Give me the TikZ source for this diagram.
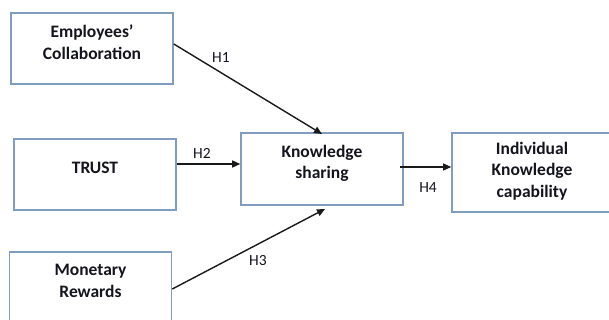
\documentclass[tikz,border=0pt]{standalone}
\usepackage{fontspec}
\setmainfont{Carlito}
\usetikzlibrary{arrows.meta}
\definecolor{boxblue}{RGB}{128,156,190}
\definecolor{inkdark}{RGB}{20,20,30}
\tikzset{
	box/.style={draw=boxblue, line width=1.6pt, minimum width=162pt, minimum height=71pt, inner sep=0pt},
	boxtext/.style={align=center, text=inkdark, font=\bfseries\fontsize{17.5}{21.5}\selectfont},
	hyp/.style={text=inkdark, font=\fontsize{15.5}{17}\selectfont},
	link/.style={-{Triangle[length=8pt,width=7pt]}, line width=1.4pt, color=black!90}
}

\begin{document}
\begin{tikzpicture}[x=1pt,y=-1pt]
		%%%%% START %%%%%
		
		\useasboundingbox (0, 0) rectangle (609, 320);
		\clip (0, 0) rectangle (609, 320);
		
		\node[box] (collab) at (92, 48.5) {};
		\node[boxtext] (collabtxt) at (92, 42) {Employees’\\Collaboration};
		
		\node[box] (trust) at (95, 174.5) {};
		\node[boxtext] (trusttxt) at (95, 168) {TRUST};
		
		\node[box] (reward) at (90.5, 287.5) {};
		\node[boxtext] (rewardtxt) at (90.5, 281) {Monetary\\Rewards};
		
		\node[box, minimum height=72pt] (share) at (322, 169) {};
		\node[boxtext] (sharetxt) at (322, 163.5) {Knowledge\\sharing};
		
		\node[box, minimum width=160pt, minimum height=79pt] (capab) at (532, 172.5) {};
		\node[boxtext] (capabtxt) at (532, 171) {Individual\\Knowledge\\capability};
		
		\coordinate (h1end) at (322, 134);
		\coordinate (h3end) at (325, 209);
		
		\draw[link] (collab.east |- 0, 44) -- (h1end);
		\draw[link] (trust.east |- 0, 164) -- (share.west |- 0, 164);
		\draw[link] (reward.east |- 0, 289) -- (h3end);
		\draw[link] ([xshift=-4pt]share.east |- 0, 167) -- (capab.west |- 0, 167);
		
		\node[hyp] (h1) at (221, 58) {H1};
		\node[hyp] (h2) at (202, 153) {H2};
		\node[hyp] (h3) at (258, 261) {H3};
		\node[hyp] (h4) at (428, 188) {H4};
		
		%%%%% END %%%%%
	\end{tikzpicture}
\end{document}
